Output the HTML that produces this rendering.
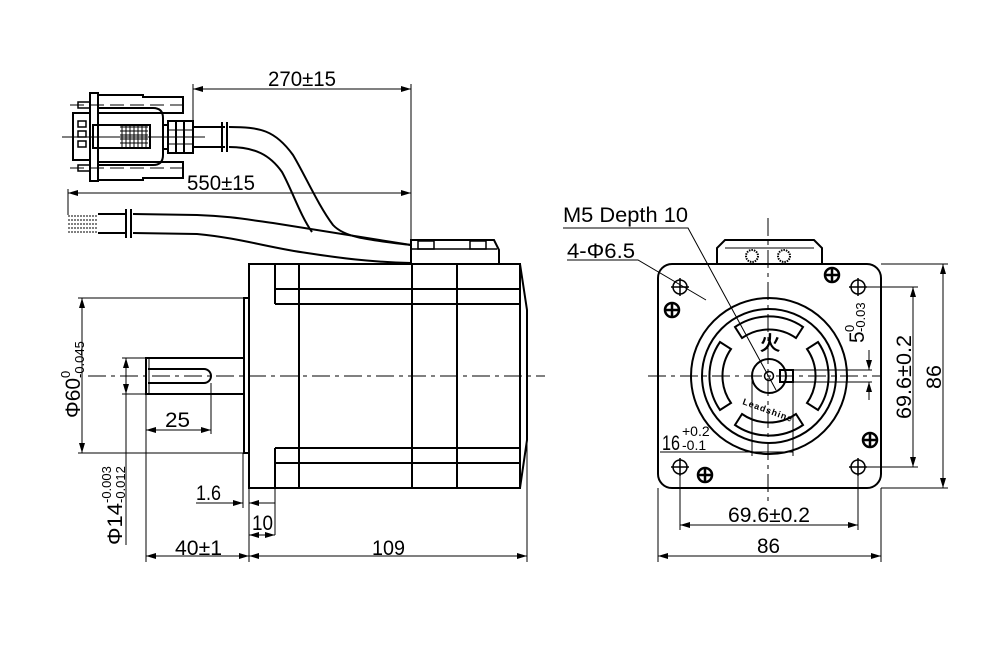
<!DOCTYPE html>
<html><head><meta charset="utf-8"><style>
html,body{margin:0;padding:0;background:#fff;}
svg{display:block;}
text{font-family:"Liberation Sans",sans-serif;fill:#000;}
</style></head><body>
<svg width="1000" height="653" viewBox="0 0 1000 653" xmlns="http://www.w3.org/2000/svg">
<defs>
<marker id="a" viewBox="0 0 10 6" refX="10" refY="3" markerWidth="10" markerHeight="6" orient="auto-start-reverse" markerUnits="userSpaceOnUse"><path d="M0,0 L10,3 L0,6 z" fill="#000"/></marker>
</defs>
<g fill="none" stroke="#000" stroke-width="1">
<line x1="88" y1="376" x2="545" y2="376" stroke-dasharray="18,5,4,5"/>
<line x1="62" y1="137" x2="205" y2="137"/>
<line x1="648" y1="376" x2="880" y2="376" stroke-dasharray="18,5,4,5"/>
<line x1="768" y1="218" x2="768" y2="505" stroke-dasharray="18,5,4,5"/>
</g>
<g fill="none" stroke="#000" stroke-width="2">
<rect x="249" y="264" width="271" height="224"/>
<polyline points="520,264 527,310 527,440 520,488"/>
<line x1="275" y1="264" x2="275" y2="304"/>
<line x1="275" y1="448" x2="275" y2="488"/>
<line x1="299" y1="264" x2="299" y2="488"/>
<line x1="412" y1="264" x2="412" y2="488"/>
<line x1="457" y1="264" x2="457" y2="488"/>
<line x1="275" y1="289" x2="520" y2="289"/>
<line x1="275" y1="304" x2="520" y2="304"/>
<line x1="275" y1="448" x2="520" y2="448"/>
<line x1="275" y1="463" x2="520" y2="463"/>
<rect x="244" y="298" width="5" height="155"/>
<rect x="146" y="358" width="98" height="36"/>
<line x1="149" y1="358" x2="149" y2="394" stroke-width="1"/>
<path d="M148,369 L204,369 A7,7 0 0 1 204,383 L148,383"/>
<path d="M411,264 L411,240 L494,240 L499,250 L499,264"/>
<line x1="411" y1="249" x2="497" y2="249" stroke-width="1.5"/>
<rect x="418" y="241" width="16" height="8" stroke-width="1.5"/>
<rect x="470" y="241" width="16" height="8" stroke-width="1.5"/>
<rect x="90" y="93" width="8" height="88"/>
<rect x="73" y="113" width="17" height="47"/>
<rect x="78" y="121" width="8" height="6" stroke-width="1.5"/>
<rect x="78" y="131" width="8" height="6" stroke-width="1.5"/>
<rect x="78" y="141" width="8" height="6" stroke-width="1.5"/>
<rect x="78" y="102" width="12" height="6" stroke-width="1.5"/>
<rect x="78" y="165" width="12" height="6" stroke-width="1.5"/>
<path d="M98,95 L143,95 L143,97 L183,97 L183,113 L143,113 L98,113"/>
<path d="M98,180 L143,180 L143,178 L183,178 L183,162 L143,162 L98,162"/>
<path d="M98,108 L153,108 Q163,108 163,118 L163,155 Q163,165 153,165 L98,165"/>
<rect x="93" y="125" width="57" height="23"/>
<rect x="168" y="121" width="25" height="32"/>
<line x1="163" y1="125" x2="168" y2="125"/><line x1="163" y1="149" x2="168" y2="149"/>
<line x1="193" y1="127" x2="225" y2="127"/>
<line x1="193" y1="147" x2="225" y2="147"/>
<line x1="222" y1="122" x2="222" y2="152"/>
<line x1="227" y1="122" x2="227" y2="152"/>
<path d="M229,127 C260,127 275,130 293,155 C305,175 318,205 333,225 C345,238 370,240 411,245"/>
<path d="M229,147 C255,147 270,155 282,172 C292,190 300,215 312,232"/>
<line x1="98" y1="214" x2="125" y2="214"/>
<line x1="98" y1="233" x2="125" y2="233"/>
<line x1="126" y1="209" x2="126" y2="238"/>
<line x1="131" y1="209" x2="131" y2="238"/>
<path d="M133,214 L197,215 C230,216 250,220 273,223 L411,245"/>
<path d="M133,233 L197,234 C240,238 270,248 307,253 C340,258 370,262 411,263"/>
</g>
<g stroke="#000" stroke-width="1">
<line x1="120" y1="127" x2="148" y2="127"/><line x1="120" y1="131" x2="148" y2="131"/><line x1="120" y1="135" x2="148" y2="135"/><line x1="120" y1="139" x2="148" y2="139"/><line x1="120" y1="143" x2="148" y2="143"/>
<line x1="122" y1="126" x2="122" y2="147"/><line x1="126" y1="126" x2="126" y2="147"/><line x1="130" y1="126" x2="130" y2="147"/><line x1="134" y1="126" x2="134" y2="147"/><line x1="138" y1="126" x2="138" y2="147"/><line x1="142" y1="126" x2="142" y2="147"/><line x1="146" y1="126" x2="146" y2="147"/>
<line x1="176" y1="121" x2="176" y2="153" stroke-width="2"/><line x1="184" y1="121" x2="184" y2="153" stroke-width="2"/>
<line x1="168" y1="130" x2="193" y2="130"/><line x1="168" y1="144" x2="193" y2="144"/>
<line x1="70" y1="105" x2="185" y2="105" stroke-dasharray="14,6"/>
<line x1="70" y1="168" x2="185" y2="168" stroke-dasharray="14,6"/>
<line x1="68" y1="216" x2="98" y2="216" stroke-dasharray="2,1"/>
<line x1="68" y1="220" x2="98" y2="220" stroke-dasharray="2,1"/>
<line x1="68" y1="224" x2="98" y2="224" stroke-dasharray="2,1"/>
<line x1="68" y1="228" x2="98" y2="228" stroke-dasharray="2,1"/>
<line x1="68" y1="232" x2="98" y2="232" stroke-dasharray="2,1"/>
</g>
<g stroke="#000" stroke-width="1" fill="none">
<line x1="193" y1="84" x2="193" y2="120"/>
<line x1="411" y1="84" x2="411" y2="264"/>
<line x1="193" y1="89" x2="411" y2="89" marker-start="url(#a)" marker-end="url(#a)"/>
<line x1="68" y1="189" x2="68" y2="215"/>
<line x1="68" y1="193" x2="411" y2="193" marker-start="url(#a)" marker-end="url(#a)"/>
<line x1="78" y1="298" x2="244" y2="298"/>
<line x1="78" y1="453" x2="244" y2="453"/>
<line x1="82" y1="298" x2="82" y2="453" marker-start="url(#a)" marker-end="url(#a)"/>
<line x1="122" y1="358" x2="146" y2="358"/>
<line x1="122" y1="394" x2="146" y2="394"/>
<line x1="126" y1="358" x2="126" y2="394" marker-start="url(#a)" marker-end="url(#a)"/>
<line x1="126" y1="394" x2="126" y2="545"/>
<line x1="211" y1="383" x2="211" y2="434"/>
<line x1="146" y1="394" x2="146" y2="562"/>
<line x1="146" y1="430" x2="211" y2="430" marker-start="url(#a)" marker-end="url(#a)"/>
<line x1="243" y1="453" x2="243" y2="508"/>
<line x1="249" y1="488" x2="249" y2="562"/>
<line x1="275" y1="488" x2="275" y2="535"/>
<line x1="527" y1="440" x2="527" y2="562"/>
<line x1="196" y1="503" x2="243" y2="503" marker-end="url(#a)"/>
<line x1="249" y1="503" x2="275" y2="503" marker-start="url(#a)"/>
<line x1="249" y1="535" x2="275" y2="535" marker-start="url(#a)" marker-end="url(#a)"/>
<line x1="146" y1="556" x2="249" y2="556" marker-start="url(#a)" marker-end="url(#a)"/>
<line x1="249" y1="556" x2="527" y2="556" marker-start="url(#a)" marker-end="url(#a)"/>
</g>
<g font-size="21">
<text x="268" y="86" textLength="68" lengthAdjust="spacingAndGlyphs">270±15</text>
<text x="187" y="190" textLength="68" lengthAdjust="spacingAndGlyphs">550±15</text>
<text x="165" y="427" textLength="25" lengthAdjust="spacingAndGlyphs">25</text>
<text x="196" y="500" textLength="25" lengthAdjust="spacingAndGlyphs">1.6</text>
<text x="252" y="530" textLength="21" lengthAdjust="spacingAndGlyphs">10</text>
<text x="175" y="555" textLength="47" lengthAdjust="spacingAndGlyphs">40±1</text>
<text x="372" y="555" textLength="33" lengthAdjust="spacingAndGlyphs">109</text>
<g transform="translate(80,418) rotate(-90)"><text x="0" y="0" textLength="40" lengthAdjust="spacingAndGlyphs">Φ60</text><text x="40" y="-10" font-size="13">0</text><text x="40" y="4" font-size="13">-0.045</text></g>
<g transform="translate(122,545) rotate(-90)"><text x="0" y="0" textLength="42" lengthAdjust="spacingAndGlyphs">Φ14</text><text x="42" y="-11" font-size="13">-0.003</text><text x="42" y="3" font-size="13">-0.012</text></g>
<text x="563" y="222" textLength="125" lengthAdjust="spacingAndGlyphs">M5 Depth 10</text>
<text x="567" y="258" textLength="68" lengthAdjust="spacingAndGlyphs">4-Φ6.5</text>
<text x="728" y="522" textLength="82" lengthAdjust="spacingAndGlyphs">69.6±0.2</text>
<text x="757" y="553" textLength="23" lengthAdjust="spacingAndGlyphs">86</text>
<g transform="translate(941,389) rotate(-90)"><text x="0" y="0" textLength="24" lengthAdjust="spacingAndGlyphs">86</text></g>
<g transform="translate(911,419) rotate(-90)"><text x="0" y="0" textLength="84" lengthAdjust="spacingAndGlyphs">69.6±0.2</text></g>
<g transform="translate(864,343) rotate(-90)"><text x="0" y="0">5</text><text x="11" y="-10" font-size="13">0</text><text x="11" y="1" font-size="13">-0.03</text></g>
<text x="662" y="450" textLength="18" lengthAdjust="spacingAndGlyphs">16</text>
<text x="682" y="436" font-size="14">+0.2</text>
<text x="682" y="450" font-size="14">-0.1</text>
</g>
<g fill="none" stroke="#000" stroke-width="2">
<rect x="658" y="264" width="223" height="224" rx="14"/>
<path d="M717,264 L717,248 L725,240 L814,240 L822,248 L822,264"/>
<line x1="725" y1="248" x2="814" y2="248" stroke-width="1"/>
<circle cx="769" cy="376" r="78"/>
<circle cx="769" cy="376" r="67"/>
<circle cx="769" cy="376" r="17"/>
<circle cx="769" cy="376" r="4.5" stroke-width="1.5"/>
<g transform="translate(769,376)">
<path id="sl" d="M-34,-49 A60,60 0 0 1 34,-49 L27,-38 A47,47 0 0 0 -27,-38 Z"/>
<use href="#sl" transform="rotate(90)"/>
<use href="#sl" transform="rotate(180)"/>
<use href="#sl" transform="rotate(270)"/>
</g>
<rect x="780" y="370" width="13" height="12"/>
</g>
<g stroke="#000" stroke-width="1" fill="none">
<line x1="793" y1="370" x2="872" y2="370"/>
<line x1="793" y1="382" x2="872" y2="382"/>
<line x1="869" y1="350" x2="869" y2="370" marker-end="url(#a)"/>
<line x1="869" y1="400" x2="869" y2="382" marker-end="url(#a)"/>
<line x1="752" y1="380" x2="752" y2="456"/>
<line x1="793" y1="382" x2="793" y2="456"/>
<line x1="660" y1="452" x2="793" y2="452"/>
<line x1="881" y1="264" x2="948" y2="264"/>
<line x1="881" y1="488" x2="948" y2="488"/>
<line x1="943" y1="264" x2="943" y2="488" marker-start="url(#a)" marker-end="url(#a)"/>
<line x1="858" y1="287" x2="918" y2="287"/>
<line x1="858" y1="467" x2="918" y2="467"/>
<line x1="913" y1="287" x2="913" y2="467" marker-start="url(#a)" marker-end="url(#a)"/>
<line x1="680" y1="467" x2="680" y2="530"/>
<line x1="858" y1="467" x2="858" y2="530"/>
<line x1="680" y1="525" x2="858" y2="525" marker-start="url(#a)" marker-end="url(#a)"/>
<line x1="658" y1="488" x2="658" y2="562"/>
<line x1="881" y1="488" x2="881" y2="562"/>
<line x1="658" y1="556" x2="881" y2="556" marker-start="url(#a)" marker-end="url(#a)"/>
<polyline points="563,228 688,228 776,390"/>
<polyline points="567,260 638,260 706,300"/>
<g stroke-width="1.5">
<circle cx="680" cy="287" r="7"/><line x1="671" y1="287" x2="689" y2="287"/><line x1="680" y1="278" x2="680" y2="296"/>
<circle cx="858" cy="287" r="7"/><line x1="849" y1="287" x2="867" y2="287"/><line x1="858" y1="278" x2="858" y2="296"/>
<circle cx="680" cy="467" r="7"/><line x1="671" y1="467" x2="689" y2="467"/><line x1="680" y1="458" x2="680" y2="476"/>
<circle cx="858" cy="467" r="7"/><line x1="849" y1="467" x2="867" y2="467"/><line x1="858" y1="458" x2="858" y2="476"/>
</g>
<g stroke-width="2.5">
<circle cx="832" cy="275" r="7"/><line x1="825" y1="275" x2="839" y2="275"/><line x1="832" y1="268" x2="832" y2="282"/>
<circle cx="672" cy="310" r="7"/><line x1="665" y1="310" x2="679" y2="310"/><line x1="672" y1="303" x2="672" y2="317"/>
<circle cx="870" cy="440" r="7"/><line x1="863" y1="440" x2="877" y2="440"/><line x1="870" y1="433" x2="870" y2="447"/>
<circle cx="705" cy="475" r="7"/><line x1="698" y1="475" x2="712" y2="475"/><line x1="705" y1="468" x2="705" y2="482"/>
</g>
<circle cx="752" cy="256" r="6" stroke-width="2" stroke-dasharray="1.5,1"/>
<circle cx="784" cy="256" r="6" stroke-width="2" stroke-dasharray="1.5,1"/>
</g>
<text x="760" y="350" font-size="20" font-weight="bold">⽕</text>
<text transform="translate(742,404) rotate(20)" font-size="9" font-weight="bold" textLength="52">Leadshine</text>
</svg>
</body></html>
